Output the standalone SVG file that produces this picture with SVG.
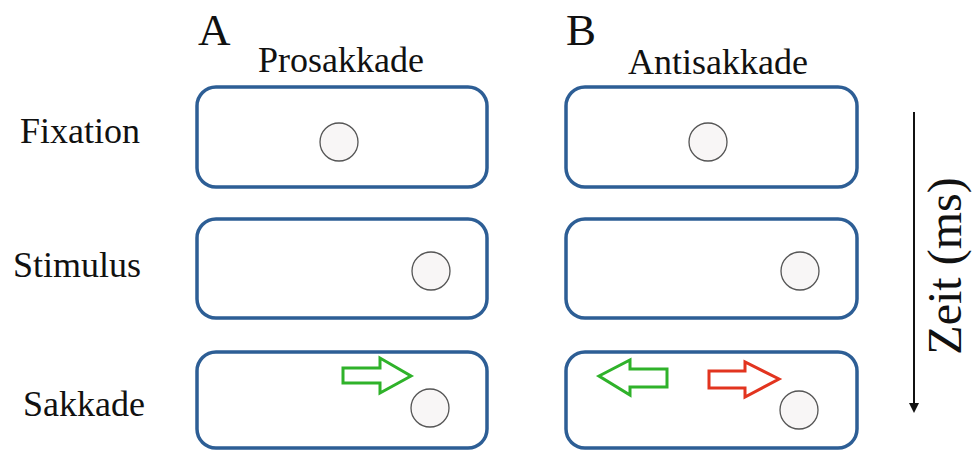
<svg xmlns="http://www.w3.org/2000/svg" width="972" height="451" viewBox="0 0 972 451">
  <style>
    .lbl { font-family: "Liberation Serif", "Times New Roman", serif; fill: #111; }
    .frame { fill: #fff; stroke: #2d5e95; stroke-width: 3.5; }
    .dot { fill: #f8f6f6; stroke: #555; stroke-width: 1.3; }
    .arr { fill: #fff; stroke-width: 3; stroke-linejoin: miter; }
  </style>
  <defs>
    <marker id="tip" markerWidth="10" markerHeight="10" refX="5" refY="5" orient="auto" markerUnits="userSpaceOnUse">
      <path d="M0,0 L10,5 L0,10 z" fill="#111"/>
    </marker>
  </defs>
  <rect width="972" height="451" fill="#fff"/>

  <!-- column and row headings -->
  <g id="headings">
    <text class="lbl" x="198" y="45" font-size="45">A</text>
    <text class="lbl" x="258" y="72" font-size="36">Prosakkade</text>
    <text class="lbl" x="566" y="45" font-size="45">B</text>
    <text class="lbl" x="628" y="74" font-size="36">Antisakkade</text>
    <text class="lbl" x="20" y="143" font-size="36">Fixation</text>
    <text class="lbl" x="13" y="277" font-size="36">Stimulus</text>
    <text class="lbl" x="23" y="416" font-size="36">Sakkade</text>
  </g>

  <!-- Prosakkade column -->
  <g id="a-fixation">
    <rect class="frame" x="197" y="87" width="290" height="100" rx="19"/>
    <circle class="dot" cx="339" cy="142" r="19"/>
  </g>
  <g id="a-stimulus">
    <rect class="frame" x="197" y="219" width="290" height="99" rx="19"/>
    <circle class="dot" cx="431" cy="271" r="19"/>
  </g>
  <g id="a-sakkade">
    <rect class="frame" x="197" y="352" width="290" height="96" rx="19"/>
    <circle class="dot" cx="430" cy="408" r="19"/>
    <path class="arr" stroke="#2fb22a" d="M343,368 L380,368 L380,358 L411,376 L380,393 L380,383 L343,383 Z"/>
  </g>

  <!-- Antisakkade column -->
  <g id="b-fixation">
    <rect class="frame" x="566" y="87" width="291" height="100" rx="19"/>
    <circle class="dot" cx="708" cy="142" r="19"/>
  </g>
  <g id="b-stimulus">
    <rect class="frame" x="566" y="219" width="291" height="99" rx="19"/>
    <circle class="dot" cx="800" cy="271" r="19"/>
  </g>
  <g id="b-sakkade">
    <rect class="frame" x="566" y="352" width="291" height="96" rx="19"/>
    <circle class="dot" cx="799" cy="410" r="19"/>
    <path class="arr" stroke="#2fb22a" d="M667,369 L630,369 L630,360 L599,376 L630,395 L630,387 L667,387 Z"/>
    <path class="arr" stroke="#e2341f" d="M709,371 L745,371 L745,362 L779,379 L745,397 L745,388 L709,388 Z"/>
  </g>

  <!-- time axis -->
  <g id="connectors">
    <line x1="914" y1="112" x2="914" y2="408" stroke="#111" stroke-width="2" marker-end="url(#tip)"/>
  </g>
  <g id="time-label">
    <text class="lbl" font-size="48" text-anchor="middle" transform="translate(961,266) rotate(-90)">Zeit (ms)</text>
  </g>
</svg>
